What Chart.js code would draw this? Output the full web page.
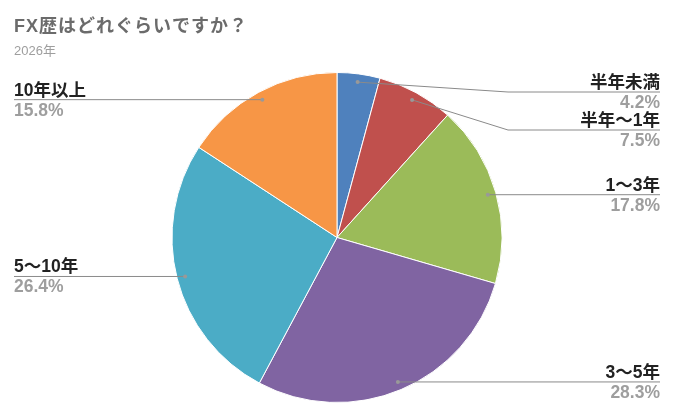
<!DOCTYPE html>
<html>
<head>
<meta charset="utf-8">
<script src="https://cdn.jsdelivr.net/npm/chart.js@4/dist/chart.umd.min.js"></script>
<style>
  html, body { margin: 0; padding: 0; background: #fff; }
  #wrap { width: 680px; height: 420px; }
</style>
</head>
<body>
<div id="wrap"><canvas id="pie-chart"></canvas></div>
<script>
// FX experience survey
const chartTitle = 'FX歴はどれぐらいですか？';
const chartSubtitle = '2026年';
const categories = ['半年未満', '半年〜1年', '1〜3年', '3〜5年', '5〜10年', '10年以上'];
const shares = [4.2, 7.5, 17.8, 28.3, 26.4, 15.8];
const sliceColors = ['#4f81bd', '#c0504d', '#9bbb59', '#8064a2', '#4bacc6', '#f79646'];

const FONT = "'Liberation Sans', 'Noto Sans CJK JP', sans-serif";

// title, subtitle and callout labels with leader lines
const calloutPlugin = {
    id: 'callouts',
    afterDraw(chart) {
        const ctx = chart.ctx;
        const area = chart.chartArea;
        const meta = chart.getDatasetMeta(0);

        ctx.save();
        ctx.textBaseline = 'alphabetic';
        ctx.textAlign = 'left';
        ctx.fillStyle = '#6b6b6b';
        ctx.font = 'bold 18px ' + FONT;
        ctx.letterSpacing = '1px';
        ctx.fillText(chartTitle, 14, 32);
        ctx.letterSpacing = '0px';
        ctx.fillStyle = '#9e9e9e';
        ctx.font = '13px ' + FONT;
        ctx.fillText(chartSubtitle, 14, 55);

        const items = meta.data.map((arc, i) => {
            const p = arc.getProps(['x', 'y', 'startAngle', 'endAngle', 'outerRadius'], true);
            const mid = (p.startAngle + p.endAngle) / 2;
            const r = p.outerRadius * 0.95;
            return {
                i: i,
                cx: p.x,
                radius: p.outerRadius,
                ax: p.x + Math.cos(mid) * r,
                ay: p.y + Math.sin(mid) * r,
                right: Math.cos(mid) >= 0
            };
        });

        const minTop = area.top + 20;
        const gap = 38;
        [true, false].forEach(side => {
            const group = items.filter(it => it.right === side).sort((a, b) => a.ay - b.ay);
            let prev = -Infinity;
            group.forEach(it => {
                it.ly = Math.max(it.ay, prev + gap, minTop);
                prev = it.ly;
            });
        });

        items.forEach(it => {
            const endX = it.right ? 660 : 14;
            const elbowX = it.cx + (it.right ? 1 : -1) * (it.radius + 6);

            ctx.strokeStyle = '#8a8a8a';
            ctx.lineWidth = 1;
            ctx.beginPath();
            ctx.moveTo(it.ax, it.ay);
            if (Math.abs(it.ly - it.ay) > 0.5) {
                ctx.lineTo(elbowX, it.ly);
            }
            ctx.lineTo(endX, it.ly);
            ctx.stroke();

            ctx.fillStyle = '#999';
            ctx.beginPath();
            ctx.arc(it.ax, it.ay, 2, 0, Math.PI * 2);
            ctx.fill();

            ctx.textAlign = it.right ? 'right' : 'left';
            ctx.font = 'bold 17.5px ' + FONT;
            ctx.fillStyle = '#222';
            ctx.fillText(categories[it.i], endX, it.ly - 4);
            ctx.fillStyle = '#9e9e9e';
            ctx.fillText(shares[it.i].toFixed(1) + '%', endX, it.ly + 16);
        });
        ctx.restore();
    }
};

new Chart(document.getElementById('pie-chart'), {
    type: 'pie',
    data: {
        labels: categories,
        datasets: [{
            data: shares,
            backgroundColor: sliceColors,
            borderColor: '#ffffff',
            borderWidth: 1
        }]
    },
    options: {
        responsive: true,
        maintainAspectRatio: false,
        animation: false,
        layout: {
            padding: { top: 72, bottom: 17, left: 0, right: 6 }
        },
        plugins: {
            legend: { display: false },
            tooltip: { enabled: false },
            title: { display: false }
        }
    },
    plugins: [calloutPlugin]
});
</script>
</body>
</html>
